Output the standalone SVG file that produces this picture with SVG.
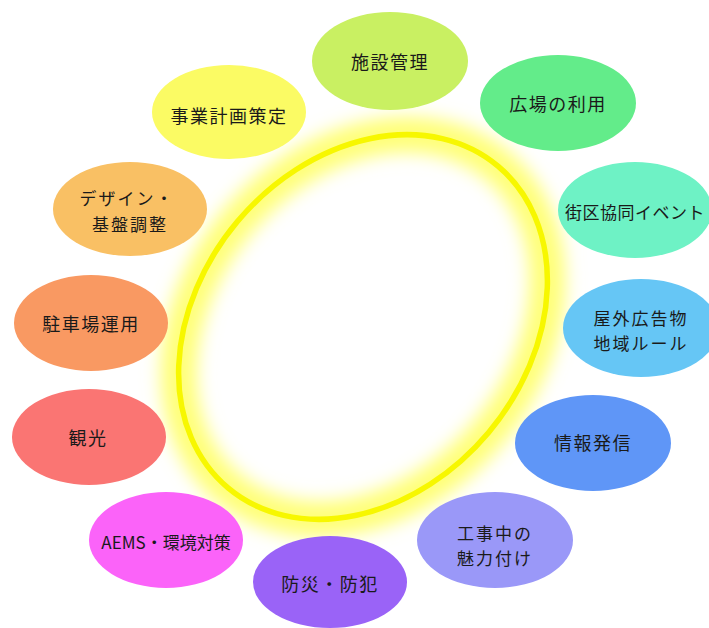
<svg xmlns="http://www.w3.org/2000/svg" width="709" height="628" viewBox="0 0 709 628">
<defs>
<filter id="glow" x="-30%" y="-30%" width="160%" height="160%">
<feGaussianBlur stdDeviation="9"/>
</filter>
<style>
.n{stroke:none}
.t{font-family:"Noto Sans CJK JP","Noto Sans",sans-serif;font-size:18px;letter-spacing:1.5px;fill:#1a1a1a;text-anchor:middle;dominant-baseline:central}
.t2{font-size:17px;letter-spacing:2px}
</style>
</defs>
<rect width="709" height="628" fill="#ffffff"/>
<g id="center-ring" transform="translate(363 327) rotate(40)">
<ellipse cx="0" cy="0" rx="164" ry="210" fill="none" stroke="#ffff78" stroke-width="36" filter="url(#glow)"/>
<ellipse cx="0" cy="0" rx="164" ry="210" fill="none" stroke="#f7f700" stroke-width="5.5"/>
</g>
<g id="n-shisetsu"><ellipse class="n" cx="390" cy="61" rx="78" ry="49" fill="#c9f062"/><text class="t" x="390" y="61">施設管理</text></g>
<g id="n-jigyou"><ellipse class="n" cx="229" cy="112" rx="77" ry="47" fill="#fbfb64"/><text class="t" x="229" y="115">事業計画策定</text></g>
<g id="n-hiroba"><ellipse class="n" cx="558" cy="103" rx="78" ry="48" fill="#63ec8a"/><text class="t" x="558" y="103">広場の利用</text></g>
<g id="n-design"><ellipse class="n" cx="130" cy="209" rx="77" ry="47" fill="#f9c064"/><text class="t t2" x="127" y="197">デザイン・</text><text class="t t2" x="130" y="223">基盤調整</text></g>
<g id="n-gaiku"><ellipse class="n" cx="635" cy="210" rx="77" ry="48" fill="#6ef2c5"/><text class="t" x="635" y="211" style="font-size:17px;letter-spacing:0.5px">街区協同イベント</text></g>
<g id="n-chusha"><ellipse class="n" cx="91" cy="323" rx="77" ry="48" fill="#f99962"/><text class="t" x="91" y="323">駐車場運用</text></g>
<g id="n-okugai"><ellipse class="n" cx="641" cy="328" rx="78" ry="49" fill="#66c6f5"/><text class="t t2" x="641" y="317">屋外広告物</text><text class="t t2" x="641" y="342">地域ルール</text></g>
<g id="n-kankou"><ellipse class="n" cx="89" cy="437" rx="77" ry="48" fill="#fa7573"/><text class="t" x="88" y="437">観光</text></g>
<g id="n-jouhou"><ellipse class="n" cx="593" cy="443" rx="78" ry="48" fill="#5f96f7"/><text class="t" x="593" y="442">情報発信</text></g>
<g id="n-aems"><ellipse class="n" cx="166" cy="540" rx="77" ry="48" fill="#fb63f9"/><text class="t" x="166" y="541" style="font-size:17px;letter-spacing:0px">AEMS・環境対策</text></g>
<g id="n-kouji"><ellipse class="n" cx="495" cy="540" rx="78" ry="48" fill="#9a98f8"/><text class="t t2" x="495" y="532">工事中の</text><text class="t t2" x="495" y="557">魅力付け</text></g>
<g id="n-bousai"><ellipse class="n" cx="330" cy="582" rx="77" ry="46" fill="#9a63f7"/><text class="t" x="330" y="583">防災・防犯</text></g>
</svg>
